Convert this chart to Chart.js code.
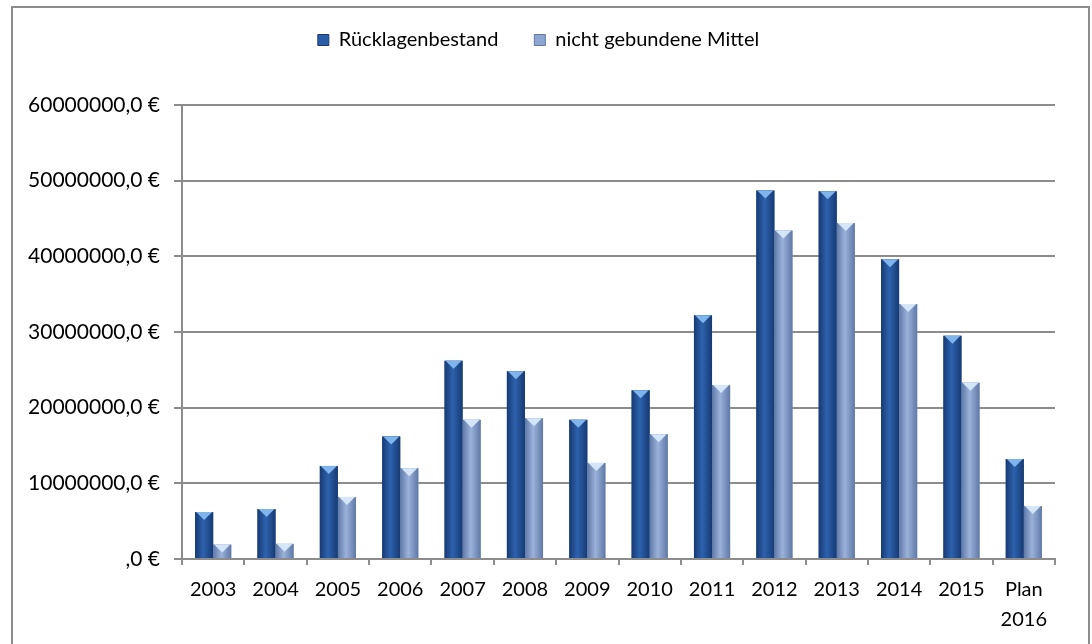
<!DOCTYPE html>
<html>
<head>
<meta charset="utf-8">
<script src="https://cdn.jsdelivr.net/npm/chart.js@4/dist/chart.umd.min.js"></script>
<style>
  html, body { margin: 0; padding: 0; background: #fff; }
  #wrap { position: relative; width: 1092px; height: 644px; }
  #frame { position: absolute; left: 11px; top: 6px; width: 1079px; height: 660px;
           border: 2px solid #8c8c8c; box-sizing: border-box; pointer-events: none; }
</style>
</head>
<body>
<div id="wrap">
  <canvas id="myChart" width="1092" height="644"></canvas>
  <div id="frame"></div>
</div>
<script>
let jahre      = ["2003", "2004", "2005", "2006", "2007", "2008", "2009", "2010", "2011", "2012", "2013", "2014", "2015", ["Plan", "2016"]];
let ruecklagen = [6200000, 6600000, 12300000, 16200000, 26200000, 24800000, 18400000, 22300000, 32200000, 48700000, 48600000, 39600000, 29500000, 13200000];
let ungebunden = [1900000, 2000000, 8200000, 12000000, 18400000, 18600000, 12700000, 16500000, 23000000, 43400000, 44400000, 33700000, 23300000, 7000000];
let serien     = ["Rücklagenbestand", "nicht gebundene Mittel"];
let yTicks     = [0, 10000000, 20000000, 30000000, 40000000, 50000000, 60000000];

const schrift = "Lato, 'Open Sans', sans-serif";

// Excel-artige Abschrägung: Verlauf + helles Dreieck oben
const bevel = {
    id: 'bevel',
    afterInit(chart) {
        // mehr Luft zwischen Legende und Diagramm
        const fit = chart.legend.fit;
        chart.legend.fit = function () { fit.call(this); this.height += 45; };
    },
    afterDatasetsDraw(chart) {
        const c = chart.ctx;
        const farben = [
            { rand: '#173a73', mitte: '#2d62ad', spitze: '#7fb4ec' },
            { rand: '#5f78a6', mitte: '#9bb2da', spitze: '#d4e6fa' }
        ];
        chart.data.datasets.forEach((ds, i) => {
            const meta = chart.getDatasetMeta(i);
            const f = farben[i];
            meta.data.forEach(bar => {
                const w = bar.width, l = bar.x - w / 2, r = bar.x + w / 2;
                const top = bar.y, bottom = bar.base;
                const g = c.createLinearGradient(l, 0, r, 0);
                g.addColorStop(0, f.rand);
                g.addColorStop(0.45, f.mitte);
                g.addColorStop(1, f.rand);
                c.fillStyle = g;
                c.fillRect(l, top, w, bottom - top);
                const h = Math.min(8, (bottom - top));
                c.beginPath();
                c.moveTo(l + 1, top);
                c.lineTo(r - 1, top);
                c.lineTo(bar.x, top + h);
                c.closePath();
                c.fillStyle = f.spitze;
                c.fill();
            });
        });
    }
};

const ctx = document.getElementById('myChart').getContext('2d');
const myChart = new Chart(ctx, {
    type: 'bar',
    data: {
        labels: jahre,
        datasets: [{
            label: serien[0],
            data: ruecklagen,
            backgroundColor: '#2a5ea8',
            borderWidth: 0
        }, {
            label: serien[1],
            data: ungebunden,
            backgroundColor: '#8ea6cf',
            borderWidth: 0
        }]
    },
    options: {
        responsive: false,
        animation: false,
        layout: { padding: { left: 22, right: 37, top: -6, bottom: 0 } },
        datasets: { bar: { categoryPercentage: 0.58, barPercentage: 1.0 } },
        plugins: {
            legend: {
                position: 'top',
                labels: {
                    color: '#000',
                    font: { family: schrift, size: 20 },
                    boxWidth: 11,
                    boxHeight: 11,
                    padding: 36,
                    generateLabels(chart) {
                        return chart.data.datasets.map((ds, i) => ({
                            text: ds.label,
                            fillStyle: i === 0 ? '#2a5ea8' : '#8ea6cf',
                            strokeStyle: i === 0 ? '#173a73' : '#5f78a6',
                            lineWidth: 1,
                            datasetIndex: i,
                            fontColor: '#000'
                        }));
                    }
                }
            },
            tooltip: { enabled: false }
        },
        scales: {
            x: {
                offset: true,
                grid: { display: true, offset: true, drawOnChartArea: false, color: '#8c8c8c', lineWidth: 2, tickLength: 6 },
                border: { color: '#8c8c8c', width: 2 },
                ticks: { color: '#000', font: { family: schrift, size: 20, lineHeight: 1.5 }, maxRotation: 0, autoSkip: false, padding: 10 },
                afterFit(s) { s.height = 85; }
            },
            y: {
                min: 0,
                max: 60000000,
                afterBuildTicks(s) { s.ticks = yTicks.map(v => ({ value: v })); },
                grid: { color: '#8c8c8c', lineWidth: 2, tickLength: 8 },
                border: { color: '#8c8c8c', width: 2 },
                ticks: {
                    color: '#000',
                    font: { family: schrift, size: 21 },
                    padding: 14,
                    callback: v => (v === 0 ? '' : String(v)) + ',0 €'
                },
                afterFit(s) { s.width = 160; }
            }
        }
    },
    plugins: [bevel]
});
</script>
</body>
</html>
